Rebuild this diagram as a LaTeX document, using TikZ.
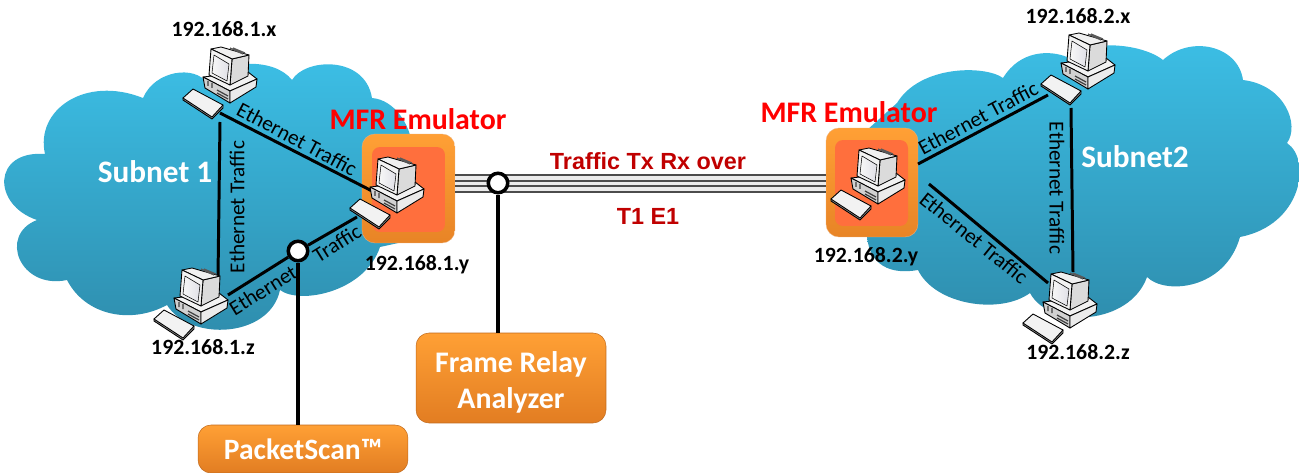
\documentclass[tikz,border=0pt]{standalone}
\usepackage{fontspec}
\setmainfont{Carlito}
\newfontfamily\arialfont{Liberation Sans}
\usetikzlibrary{positioning}
\definecolor{cloudtop}{HTML}{3CBFE6}
\definecolor{cloudbot}{HTML}{2E8CAC}
\definecolor{boxtop}{HTML}{FFA035}
\definecolor{boxbot}{HTML}{E27D22}
\definecolor{emuface}{HTML}{FF6F3D}
\definecolor{linkred}{HTML}{C00000}
\tikzset{
    cloudfill/.style={top color=cloudtop,bottom color=cloudbot,draw=none},
    link/.style={draw=black,line width=1.7pt},
    tapline/.style={draw=black,line width=2pt},
    trunk/.style={draw=black!70,line width=0.85pt},
    tap/.style={circle,draw=black,fill=white,line width=2pt,minimum size=0.39cm,inner sep=0pt},
    emubox/.style={rounded corners=0.26cm,top color=boxtop,bottom color=boxbot!80!boxtop,draw=boxbot!60,line width=0.2pt,inner sep=0pt},
    emuin/.style={rounded corners=0.16cm,fill=emuface,inner sep=0pt},
    toolbox/.style={rounded corners=0.26cm,top color=boxtop,bottom color=boxbot,draw=boxbot!85!black,line width=0.3pt,inner sep=0pt,
        text=white,align=center,font=\fontsize{17}{20.5}\selectfont\bfseries},
    iplabel/.style={font=\fontsize{12.4}{14}\selectfont\bfseries,inner sep=0pt},
    redlabel/.style={text=red,font=\fontsize{17}{19}\selectfont\bfseries,inner sep=0pt},
    netlabel/.style={text=white,font=\fontsize{17.8}{20}\selectfont\bfseries,inner sep=0pt},
    trafficlabel/.style={font=\fontsize{12.1}{14}\selectfont,inner sep=0pt},
    wirelabel/.style={text=linkred,font=\arialfont\fontsize{13.3}{15}\selectfont\bfseries,inner sep=0pt},
    pcicon/.pic={
        \begin{scope}[draw=black,line width=0.5pt,line join=round]
        % keyboard
        \draw[fill=black!45] (0,50) -- (0,52) -- (29,71) -- (40,60) -- (40,57) -- cycle;
        \draw[fill=black!5] (0,50) -- (10,41) -- (40,57) -- (29,69) -- cycle;
        % base
        \draw[fill=black!5] (20,29) -- (47,43) -- (74,31) -- (65,24) -- cycle;
        \draw[fill=black!18] (20,29) -- (47,43) -- (47,55) -- (22,40) -- cycle;
        \draw[fill=black!8] (47,43) -- (74,31) -- (73,39) -- (47,55) -- cycle;
        \draw[line width=0.7pt,black!75] (25,33) -- (25,38) (29,35) -- (29,40) (34,42) -- (45,48) (34,45) -- (45,51);
        % monitor
        \draw[fill=black!14] (49,11) -- (66,7) -- (65,28) -- (47,37) -- cycle;
        \draw[fill=black!6] (28,1) -- (38,-1) -- (66,7) -- (49,11) -- cycle;
        \draw[line width=0.7pt,black!65] (47,0) -- (60,6) (50,0) -- (62,5);
        \draw[fill=black!5] (28,1) -- (49,11) -- (47,37) -- (26,27) -- cycle;
        \shade[left color=black!3,right color=blue!22!black!12!white,draw=black,line width=0.3pt]
            (31,7) -- (46,16) -- (44,33) -- (29,25) -- cycle;
        \end{scope}
    }
}
\begin{document}
\begin{tikzpicture}[x=0.02cm,y=-0.02cm]
    \useasboundingbox (0,0) rectangle (1299,473);

    % clouds
    \shade[cloudfill] (45,154) .. controls (35,110) and (85,75) .. (143,98)
        .. controls (155,70) and (195,65) .. (207,83)
        .. controls (225,58) and (275,58) .. (292,80)
        .. controls (305,58) and (365,55) .. (372,98)
        .. controls (395,100) and (410,125) .. (412,145)
        -- (412,240) -- (380,247)
        .. controls (365,292) and (300,305) .. (280,290)
        .. controls (270,338) and (190,342) .. (167,305)
        .. controls (130,325) and (85,315) .. (67,280)
        .. controls (20,290) and (-2,235) .. (37,220)
        .. controls (-8,205) and (-8,150) .. (45,154) -- cycle;
    \shade[cloudfill] (897,103) .. controls (920,65) and (985,65) .. (1003,78)
        .. controls (1020,50) and (1050,50) .. (1067,57)
        .. controls (1085,40) and (1140,42) .. (1163,60)
        .. controls (1190,35) and (1238,45) .. (1243,80)
        .. controls (1285,85) and (1300,125) .. (1287,143)
        .. controls (1312,160) and (1302,225) .. (1240,237)
        .. controls (1225,290) and (1165,295) .. (1147,277)
        .. controls (1130,325) and (1050,330) .. (1030,293)
        .. controls (1000,315) and (935,305) .. (918,270)
        .. controls (890,275) and (870,265) .. (867,237)
        -- (867,130) -- cycle;

    % emulators
    \node[emubox,minimum width=1.86cm,minimum height=2.18cm] (emua) at (408.5,188.5) {};
    \node[emuin,minimum width=1.46cm,minimum height=1.7cm] (emuina) at (408.5,189.5) {};
    \node[emubox,minimum width=1.84cm,minimum height=2.18cm] (emub) at (872,182.5) {};
    \node[emuin,minimum width=1.46cm,minimum height=1.72cm] (emuinb) at (871.5,183) {};

    % analyzers
    \node[toolbox,minimum width=3.8cm,minimum height=1.8cm] (relay) at (511,378) {\rule{0pt}{17pt}Frame Relay\\Analyzer};
    \node[toolbox,minimum width=4.2cm,minimum height=0.96cm,font=\fontsize{16.8}{20}\selectfont\bfseries] (pscan) at (303,449) {PacketScan™};

    % lines between the emulators
    \coordinate (trunka) at (emua.east |- 0,183.5);
    \coordinate (trunkb) at (emub.west |- 0,183.5);
    \fill[black!8] ([yshift=0.17cm]trunka) rectangle ([yshift=-0.17cm]trunkb);
    \foreach \off in {-0.17,-0.05,0.05,0.17}
        \draw[trunk] ([yshift=\off cm]trunka) -- ([yshift=\off cm]trunkb);

    \node[tap] (tapb) at (498,183) {};
    \node[tap] (tapa) at (298,251) {};
    \draw[tapline] (tapb) -- (tapb |- relay.north);
    \draw[tapline] (tapa) -- (tapa |- pscan.north);

    % subnet 1
    \coordinate (lxa) at (220,113);
    \coordinate (lxb) at (220,122);
    \coordinate (lya) at (372,191);
    \coordinate (lyb) at (357,217);
    \coordinate (lza) at (218,277);
    \coordinate (lzb) at (228,295);
    \draw[link] (lxa) -- (lya);
    \draw[link] (lxb) -- (lza);
    \draw[link] (lzb) -- (tapa) -- (lyb);

    % subnet 2
    \coordinate (rxa) at (1048,95);
    \coordinate (rxb) at (1071,108);
    \coordinate (rya) at (918,164);
    \coordinate (ryb) at (929,184);
    \coordinate (rza) at (1048,283);
    \coordinate (rzb) at (1073,272);
    \draw[link] (rya) -- (rxa);
    \draw[link] (ryb) -- (rza);
    \draw[link] (rxb) -- (rzb);

    % computers
    \pic at (183,48) {pcicon};
    \pic at (154,269) {pcicon};
    \pic at (350,158) {pcicon};
    \pic at (831,149) {pcicon};
    \pic at (1041,34) {pcicon};
    \pic at (1023,273) {pcicon};

    % text
    \node[iplabel] (ipax) at (224,29) {192.168.1.x};
    \node[iplabel] (ipaz) at (203,347) {192.168.1.z};
    \node[iplabel] (ipay) at (417,265) {192.168.1.y};
    \node[iplabel] (ipbx) at (1078,16) {192.168.2.x};
    \node[iplabel] (ipbz) at (1078,352) {192.168.2.z};
    \node[iplabel] (ipby) at (866,257) {192.168.2.y};
    \node[redlabel] (emulabela) at (418,119) {MFR Emulator};
    \node[redlabel] (emulabelb) at (849,112) {MFR Emulator};
    \node[netlabel] (neta) at (155,172) {Subnet 1};
    \node[netlabel] (netb) at (1135,157) {Subnet2};
    \node[wirelabel] (wiretop) at (648,161) {Traffic Tx Rx over};
    \node[wirelabel] (wirebot) at (648,216) {T1 E1};

    \node[trafficlabel,rotate=-28] (ta) at (297,139) {Ethernet Traffic};
    \node[trafficlabel,rotate=90] (tb) at (237,207) {Ethernet Traffic};
    \node[trafficlabel,rotate=32] (tc) at (263,290) {Ethernet};
    \node[trafficlabel,rotate=32] (td) at (337,243) {Traffic};
    \node[trafficlabel,rotate=28] (te) at (978,118) {Ethernet Traffic};
    \node[trafficlabel,rotate=-39] (tf) at (974,238) {Ethernet Traffic};
    \node[trafficlabel,rotate=-90] (tg) at (1057,188) {Ethernet Traffic};
\end{tikzpicture}
\end{document}
